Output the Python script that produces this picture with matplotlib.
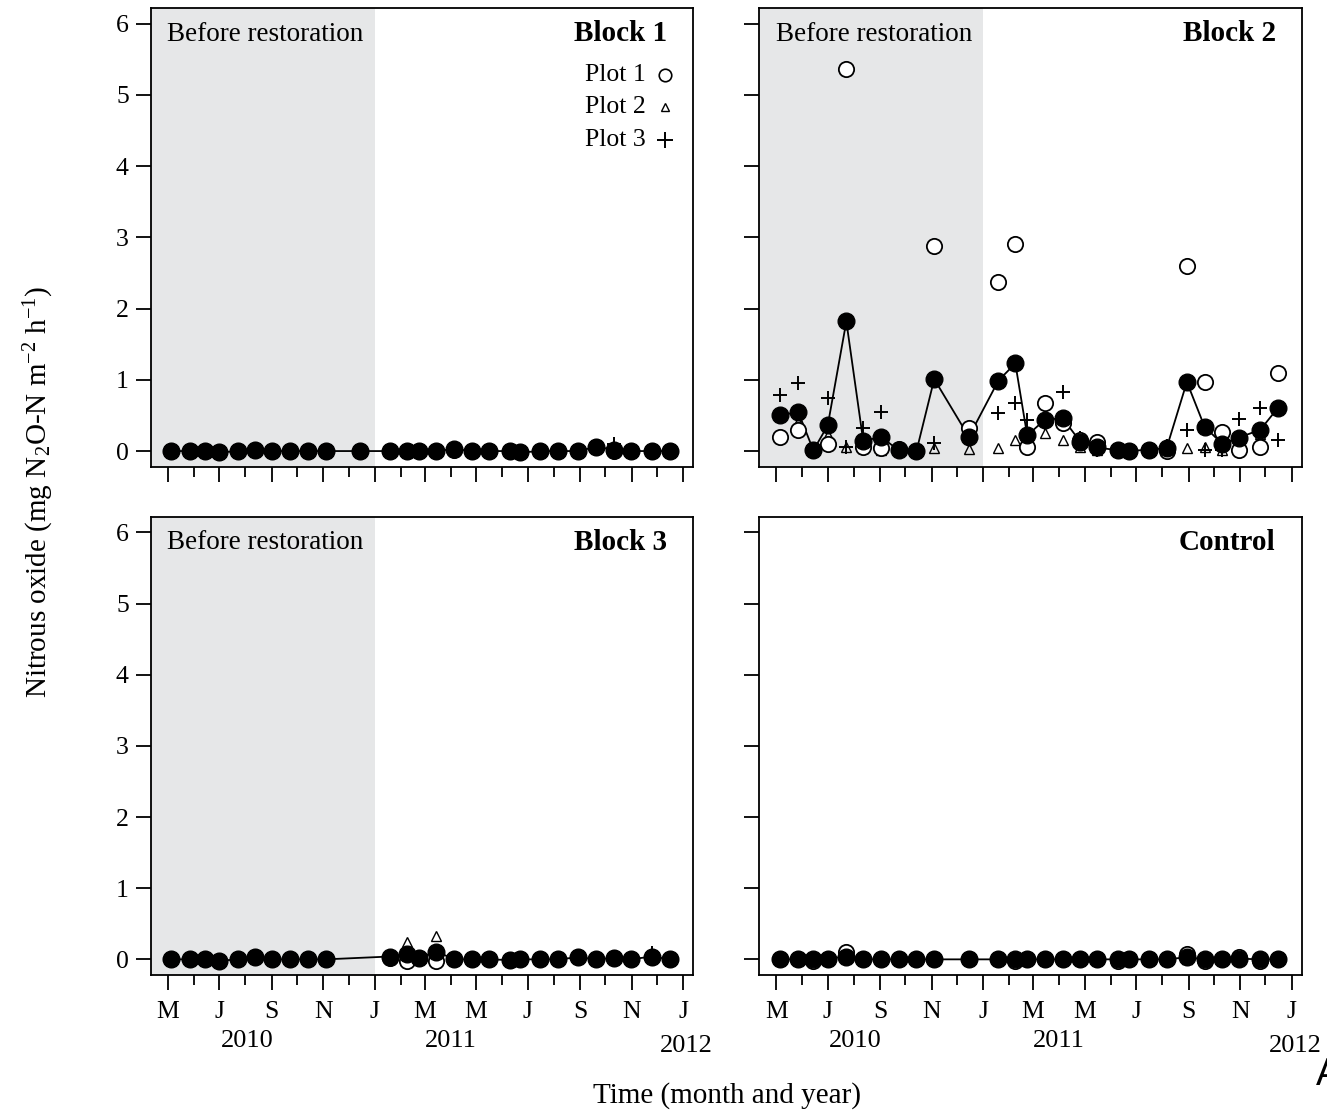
import numpy as np
import matplotlib
matplotlib.use('Agg')
import matplotlib.pyplot as plt
import matplotlib.dates as mdates
import matplotlib.transforms as mtransforms

plt.rcParams['font.family'] = 'Liberation Serif'
plt.rcParams['mathtext.fontset'] = 'custom'
plt.rcParams['mathtext.rm'] = 'Liberation Serif'
plt.rcParams['mathtext.it'] = 'Liberation Serif:italic'

# sampling dates (same for all blocks)
dates = np.array(['2010-05-05', '2010-05-27', '2010-06-14', '2010-07-01', '2010-07-23',
                  '2010-08-12', '2010-09-02', '2010-09-23', '2010-10-14', '2010-11-04',
                  '2010-12-15', '2011-01-19', '2011-02-08', '2011-02-22', '2011-03-15',
                  '2011-04-05', '2011-04-26', '2011-05-16', '2011-06-10', '2011-06-22',
                  '2011-07-16', '2011-08-06', '2011-08-30', '2011-09-20', '2011-10-11',
                  '2011-10-31', '2011-11-25', '2011-12-16'], dtype='datetime64[D]')
restoration = np.datetime64('2011-01-01')

# Block 1
b1_plot1 = [0.00, 0.00, 0.00, -0.02, 0.00, 0.01, 0.00, 0.00, 0.00, 0.00, 0.00, 0.00, 0.00, 0.00,
            0.00, 0.02, 0.00, 0.00, 0.00, -0.02, 0.00, 0.00, 0.00, 0.05, 0.00, 0.00, 0.00, 0.00]
b1_plot2 = [0.00, 0.00, 0.00, -0.02, 0.00, 0.01, 0.00, 0.00, 0.00, 0.00, 0.00, 0.00, 0.00, 0.00,
            0.00, 0.04, 0.00, 0.00, 0.00, -0.02, 0.00, 0.00, 0.00, 0.07, 0.00, 0.00, 0.00, 0.00]
b1_plot3 = [0.00, 0.00, 0.00, -0.02, 0.00, 0.01, 0.00, 0.00, 0.00, 0.00, 0.00, 0.00, 0.00, 0.00,
            0.00, 0.03, 0.00, 0.00, 0.00, -0.02, 0.00, 0.00, 0.00, 0.06, 0.10, 0.00, 0.00, 0.00]
b1_mean = [0.00, 0.00, 0.00, -0.02, 0.00, 0.01, 0.00, 0.00, 0.00, 0.00, 0.00, 0.00, 0.00, 0.00,
           0.00, 0.03, 0.00, 0.00, 0.00, -0.02, 0.00, 0.00, 0.00, 0.06, 0.02, 0.00, 0.00, 0.00]

# Block 2
b2_plot1 = [0.20, 0.29, 0.01, 0.10, 5.36, 0.05, 0.04, 0.03, 0.00, 2.88, 0.32, 2.38, 2.91, 0.06,
            0.67, 0.39, 0.15, 0.13, 0.01, 0.00, 0.02, 0.00, 2.60, 0.97, 0.27, 0.02, 0.06, 1.09]
b2_plot2 = [0.52, 0.41, 0.01, 0.23, 0.05, 0.04, 0.01, 0.00, 0.00, 0.04, 0.03, 0.04, 0.15, 0.17,
            0.25, 0.16, 0.06, 0.01, 0.00, 0.00, 0.02, 0.05, 0.04, 0.05, 0.01, 0.10, 0.24, 0.59]
b2_plot3 = [0.78, 0.95, 0.02, 0.75, 0.05, 0.33, 0.55, 0.00, 0.00, 0.11, 0.25, 0.54, 0.67, 0.43,
            0.40, 0.83, 0.18, 0.01, 0.02, 0.00, 0.02, 0.07, 0.29, 0.01, 0.02, 0.45, 0.60, 0.15]
b2_mean = [0.50, 0.55, 0.01, 0.36, 1.82, 0.14, 0.20, 0.01, 0.00, 1.01, 0.20, 0.99, 1.23, 0.22,
           0.44, 0.46, 0.13, 0.05, 0.01, 0.00, 0.02, 0.04, 0.97, 0.34, 0.10, 0.19, 0.30, 0.61]

# Block 3 (no sample in December 2010)
nan = np.nan
b3_plot1 = [0.00, 0.00, 0.00, -0.02, 0.00, 0.03, 0.00, 0.00, 0.00, 0.00, nan, 0.02, -0.03, 0.02,
            -0.02, 0.00, 0.00, 0.00, -0.01, 0.00, 0.00, 0.00, 0.03, 0.00, 0.02, 0.00, 0.04, 0.00]
b3_plot2 = [0.00, 0.00, 0.00, -0.02, 0.00, 0.03, 0.00, 0.00, 0.00, 0.00, nan, 0.07, 0.24, 0.02,
            0.33, 0.00, 0.00, 0.00, 0.00, 0.00, 0.00, 0.00, 0.03, 0.00, 0.02, 0.00, 0.04, 0.00]
b3_plot3 = [0.00, 0.00, 0.00, -0.02, 0.00, 0.03, 0.00, 0.00, 0.00, 0.00, nan, 0.04, 0.01, 0.02,
            0.03, 0.00, 0.00, 0.00, 0.00, 0.00, 0.00, 0.00, 0.05, 0.00, 0.04, 0.00, 0.09, 0.00]
b3_mean = [0.00, 0.00, 0.00, -0.02, 0.00, 0.03, 0.00, 0.00, 0.00, 0.00, nan, 0.04, 0.07, 0.02,
           0.11, 0.00, 0.00, 0.00, -0.01, 0.00, 0.00, 0.00, 0.03, 0.00, 0.02, 0.00, 0.04, 0.00]

# Control
c_plot1 = [0.00, 0.00, -0.02, 0.00, 0.10, 0.00, 0.00, 0.00, 0.00, 0.00, 0.00, 0.00, -0.02, 0.00,
           0.00, 0.00, 0.00, 0.00, -0.03, 0.00, 0.00, 0.00, 0.07, -0.02, 0.00, 0.03, -0.02, 0.00]
c_plot2 = [0.00, 0.01, 0.00, 0.01, 0.02, 0.00, 0.00, 0.00, 0.00, 0.00, 0.00, 0.00, 0.00, 0.00,
           0.00, 0.00, 0.00, 0.00, 0.00, 0.00, 0.00, 0.00, 0.01, 0.00, 0.00, 0.00, 0.00, 0.00]
c_plot3 = [0.00, 0.00, 0.00, 0.01, 0.02, 0.00, 0.00, 0.00, 0.00, 0.00, 0.00, 0.00, 0.00, 0.00,
           0.00, 0.00, 0.00, 0.00, 0.00, 0.00, 0.00, 0.00, 0.01, 0.00, 0.00, 0.00, 0.00, 0.00]
c_mean = [0.00, 0.00, 0.00, 0.01, 0.04, 0.00, 0.00, 0.00, 0.00, 0.00, 0.00, 0.00, 0.00, 0.00,
          0.00, 0.00, 0.00, 0.00, 0.00, 0.00, 0.00, 0.00, 0.03, 0.00, 0.00, 0.01, 0.00, 0.00]

month_letters = ['J', 'F', 'M', 'A', 'M', 'J', 'J', 'A', 'S', 'O', 'N', 'D']
years = ['2010', '2011', '2012']
year_pos = [np.datetime64('2010-08-03'), np.datetime64('2011-04-01'), np.datetime64('2012-01-05')]
year_y = [-0.144, -0.144, -0.155]

xmin = np.datetime64('2010-04-11')
xmax = np.datetime64('2012-01-13')
shade_col = '#e6e7e8'
fs_tick = 18.5
fs_note = 19.5
fs_title = 21
fs_axis = 21

fig = plt.figure(figsize=(13.27, 11.11), dpi=100)
ax1 = fig.add_axes([0.1136, 0.5799, 0.4089, 0.4129])
ax2 = fig.add_axes([0.5722, 0.5799, 0.4088, 0.4129])
ax3 = fig.add_axes([0.1136, 0.1224, 0.4089, 0.4125])
ax4 = fig.add_axes([0.5722, 0.1224, 0.4088, 0.4125])


def draw_panel(ax, p1, p2, p3, mean, title, shade, xlab, ylab):
    x = mdates.date2num(dates)
    mean = np.array(mean, dtype=float)
    if shade:
        ax.axvspan(mdates.date2num(xmin), mdates.date2num(restoration),
                   color=shade_col, lw=0, zorder=0)
        ax.text(0.03, 0.943, 'Before restoration', transform=ax.transAxes,
                ha='left', va='center', fontsize=fs_note)
    ok = ~np.isnan(mean)
    ax.plot(x[ok], mean[ok], '-', color='black', lw=1.3, zorder=2)
    ax.plot(x, p2, '^', ms=6.5, mfc='none', mec='black', mew=1.0, ls='none', zorder=3)
    ax.plot(x, p3, '+', ms=10, mec='black', mew=1.4, ls='none', zorder=3)
    ax.plot(x, p1, 'o', ms=11, mfc='white', mec='black', mew=1.3, ls='none', zorder=4)
    ax.plot(x, mean, 'o', ms=12, mfc='black', mec='black', ls='none', zorder=5)
    ax.text(0.952, 0.944, title, transform=ax.transAxes, ha='right', va='center',
            fontsize=fs_title, fontweight='bold')

    ax.set_xlim(mdates.date2num(xmin), mdates.date2num(xmax))
    ax.set_ylim(-0.22, 6.22)
    ax.set_yticks([0, 1, 2, 3, 4, 5, 6])
    ax.xaxis.set_major_locator(mdates.MonthLocator(bymonth=[1, 3, 5, 7, 9, 11]))
    ax.xaxis.set_minor_locator(mdates.MonthLocator(bymonth=[2, 4, 6, 8, 10, 12]))
    ax.xaxis.set_major_formatter(plt.FuncFormatter(
        lambda v, pos: month_letters[mdates.num2date(v).month - 1]))
    ax.tick_params(axis='both', which='major', direction='out', length=10.8, width=1.3,
                   labelsize=fs_tick, pad=5)
    ax.tick_params(axis='x', which='major', pad=8)
    ax.tick_params(axis='x', which='minor', direction='out', length=7.2, width=1.3)
    for s in ax.spines.values():
        s.set_linewidth(1.3)
    if not xlab:
        ax.tick_params(axis='x', labelbottom=False)
    else:
        trans = mtransforms.blended_transform_factory(ax.transData, ax.transAxes)
        for yr, xp, yp in zip(years, year_pos, year_y):
            ax.text(mdates.date2num(xp), yp, yr, transform=trans, ha='center',
                    va='center', fontsize=fs_tick + 0.5, clip_on=False)
    if not ylab:
        ax.tick_params(axis='y', labelleft=False)


draw_panel(ax1, b1_plot1, b1_plot2, b1_plot3, b1_mean, 'Block 1', True, False, True)
draw_panel(ax2, b2_plot1, b2_plot2, b2_plot3, b2_mean, 'Block 2', True, False, False)
draw_panel(ax3, b3_plot1, b3_plot2, b3_plot3, b3_mean, 'Block 3', True, True, True)
draw_panel(ax4, c_plot1, c_plot2, c_plot3, c_mean, 'Control', False, True, False)

# legend in Block 1
leg_labels = ['Plot 1', 'Plot 2', 'Plot 3']
leg_y = [0.854, 0.784, 0.713]
leg_style = [dict(marker='o', ms=9, mfc='none', mew=1.2),
             dict(marker='^', ms=6, mfc='none', mew=1.0),
             dict(marker='+', ms=11, mew=1.4)]
for lab, yy, st in zip(leg_labels, leg_y, leg_style):
    ax1.text(0.913, yy, lab, transform=ax1.transAxes, ha='right', va='center',
             fontsize=fs_tick)
    ax1.plot([0.948], [yy], transform=ax1.transAxes, color='black', ls='none',
             clip_on=False, **st)

fig.text(0.029, 0.557, r'Nitrous oxide (mg N$_2$O-N m$^{-2}$ h$^{-1}$)', rotation=90,
         ha='center', va='center', fontsize=fs_axis)
fig.text(0.548, 0.0135, 'Time (month and year)', ha='center', va='center', fontsize=fs_axis)
fig.text(0.9915, 0.0324, 'A', family='Liberation Sans', fontsize=27, ha='left', va='center')

fig.savefig('out.png', dpi=100)
